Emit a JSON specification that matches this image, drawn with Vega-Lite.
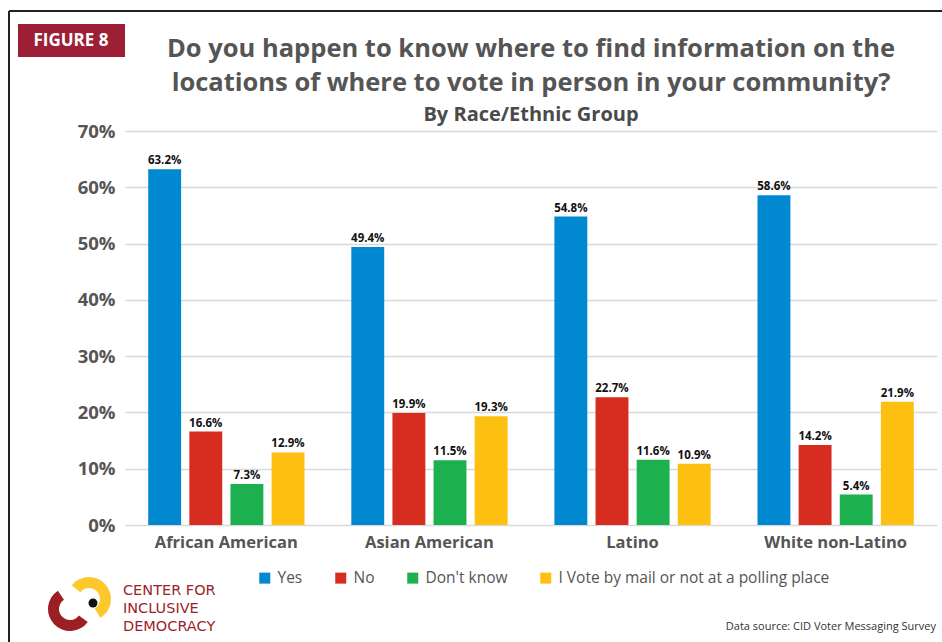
{
  "$schema": "https://vega.github.io/schema/vega-lite/v6.json",
  "width": 812,
  "height": 394,
  "autosize": {"type": "none"},
  "padding": {"left": 125, "top": 131, "right": 5, "bottom": 117},
  "background": "white",
  "config": {
    "font": "Open Sans",
    "view": {"stroke": null}
  },
  "title": {
    "text": ["Do you happen to know where to find information on the", "locations of where to vote in person in your community?"],
    "subtitle": "By Race/Ethnic Group",
    "anchor": "middle",
    "frame": "group",
    "font": "Open Sans",
    "fontSize": 25.5,
    "fontWeight": "bold",
    "color": "#555555",
    "lineHeight": 34,
    "subtitleFont": "Open Sans",
    "subtitleFontSize": 20,
    "subtitleFontWeight": "bold",
    "subtitleColor": "#4a4a4a",
    "subtitlePadding": 9,
    "offset": -115
  },
  "datasets": {
    "survey": [
      {"group": "African American", "answer": "Yes", "value": 0.632},
      {"group": "African American", "answer": "No", "value": 0.166},
      {"group": "African American", "answer": "Don't know", "value": 0.073},
      {"group": "African American", "answer": "I Vote by mail or not at a polling place", "value": 0.129},
      {"group": "Asian American", "answer": "Yes", "value": 0.494},
      {"group": "Asian American", "answer": "No", "value": 0.199},
      {"group": "Asian American", "answer": "Don't know", "value": 0.115},
      {"group": "Asian American", "answer": "I Vote by mail or not at a polling place", "value": 0.193},
      {"group": "Latino", "answer": "Yes", "value": 0.548},
      {"group": "Latino", "answer": "No", "value": 0.227},
      {"group": "Latino", "answer": "Don't know", "value": 0.116},
      {"group": "Latino", "answer": "I Vote by mail or not at a polling place", "value": 0.109},
      {"group": "White non-Latino", "answer": "Yes", "value": 0.586},
      {"group": "White non-Latino", "answer": "No", "value": 0.142},
      {"group": "White non-Latino", "answer": "Don't know", "value": 0.054},
      {"group": "White non-Latino", "answer": "I Vote by mail or not at a polling place", "value": 0.219}
    ]
  },
  "layer": [
    {
      "data": {"name": "survey"},
      "mark": {"type": "bar"},
      "encoding": {
        "x": {
          "field": "group", "type": "nominal",
          "sort": ["African American", "Asian American", "Latino", "White non-Latino"],
          "scale": {"paddingInner": 0.19, "paddingOuter": 0.094},
          "axis": {
            "title": null, "labelAngle": 0, "labelFontSize": 16.5, "labelFontWeight": "bold",
            "labelColor": "#555555", "labelPadding": 9, "ticks": false, "domain": false
          }
        },
        "xOffset": {
          "field": "answer", "type": "nominal",
          "sort": ["Yes", "No", "Don't know", "I Vote by mail or not at a polling place"],
          "scale": {"paddingInner": 0.2, "paddingOuter": 0.1}
        },
        "y": {
          "field": "value", "type": "quantitative",
          "scale": {"domain": [0, 0.7], "nice": false},
          "axis": {
            "title": null, "format": ".0%", "values": [0, 0.1, 0.2, 0.3, 0.4, 0.5, 0.6, 0.7],
            "labelFontSize": 18.5, "labelFontWeight": "bold", "labelColor": "#555555",
            "labelPadding": 10, "ticks": false, "domain": false,
            "gridColor": "#d9d9d9", "gridWidth": 1.5
          }
        },
        "color": {
          "field": "answer", "type": "nominal",
          "sort": ["Yes", "No", "Don't know", "I Vote by mail or not at a polling place"],
          "scale": {
            "domain": ["Yes", "No", "Don't know", "I Vote by mail or not at a polling place"],
            "range": ["#0088d0", "#d62d20", "#1db04f", "#fdc011"]
          },
          "legend": {
            "title": null, "orient": "none", "direction": "horizontal",
            "legendX": 132, "legendY": 439,
            "symbolType": "square", "symbolSize": 121, "symbolStrokeWidth": 0,
            "labelFontSize": 15.5, "labelColor": "#555555", "labelOffset": 5,
            "columnPadding": 30, "labelLimit": 400
          }
        }
      }
    },
    {
      "data": {"name": "survey"},
      "mark": {"type": "text", "dy": -8, "fontSize": 11.5, "fontWeight": "bold", "color": "#111111"},
      "encoding": {
        "x": {"field": "group", "type": "nominal", "sort": ["African American", "Asian American", "Latino", "White non-Latino"]},
        "xOffset": {"field": "answer", "type": "nominal", "sort": ["Yes", "No", "Don't know", "I Vote by mail or not at a polling place"]},
        "y": {"field": "value", "type": "quantitative"},
        "text": {"field": "value", "type": "quantitative", "format": ".1%"}
      }
    },
    {
      "data": {"values": [{"label": "FIGURE 8"}]},
      "mark": {"type": "rect", "color": "#9c1f35"},
      "encoding": {
        "x": {"value": -107}, "x2": {"value": 0},
        "y": {"value": -107}, "y2": {"value": -74}
      }
    },
    {
      "data": {"values": [{"label": "FIGURE 8"}]},
      "mark": {"type": "text", "color": "white", "fontSize": 17, "fontWeight": "bold", "align": "center", "baseline": "middle"},
      "encoding": {
        "x": {"value": -54}, "y": {"value": -90},
        "text": {"field": "label"}
      }
    },
    {
      "data": {"values": [{"label": "top"}]},
      "mark": {"type": "rule", "color": "#222222", "strokeWidth": 2},
      "encoding": {
        "x": {"value": -116}, "x2": {"value": 817},
        "y": {"value": -120}, "y2": {"value": -120}
      }
    },
    {
      "data": {"values": [{"label": "left"}]},
      "mark": {"type": "rule", "color": "#222222", "strokeWidth": 2},
      "encoding": {
        "x": {"value": -116}, "x2": {"value": -116},
        "y": {"value": -120}, "y2": {"value": 515}
      }
    },
    {
      "data": {"values": [{"label": "Data source: CID Voter Messaging Survey"}]},
      "mark": {"type": "text", "fontSize": 11, "color": "#333333", "align": "right", "baseline": "middle"},
      "encoding": {
        "x": {"value": 811}, "y": {"value": 496},
        "text": {"field": "label"}
      }
    },
    {
      "data": {"values": [{"line": "CENTER FOR"}]},
      "mark": {"type": "text", "fontSize": 14.5, "color": "#9c1f2a", "align": "left", "baseline": "alphabetic", "font": "DejaVu Sans"},
      "encoding": {
        "x": {"value": -2}, "y": {"value": 464},
        "text": {"field": "line"}
      }
    },
    {
      "data": {"values": [{"line": "INCLUSIVE"}]},
      "mark": {"type": "text", "fontSize": 14.5, "color": "#9c1f2a", "align": "left", "baseline": "alphabetic", "font": "DejaVu Sans"},
      "encoding": {
        "x": {"value": -2}, "y": {"value": 482},
        "text": {"field": "line"}
      }
    },
    {
      "data": {"values": [{"line": "DEMOCRACY"}]},
      "mark": {"type": "text", "fontSize": 14.5, "color": "#9c1f2a", "align": "left", "baseline": "alphabetic", "font": "DejaVu Sans"},
      "encoding": {
        "x": {"value": -2}, "y": {"value": 500},
        "text": {"field": "line"}
      }
    },
    {
      "data": {"values": [{"part": "red"}]},
      "mark": {"type": "arc", "color": "#9c1f24", "innerRadius": 11, "outerRadius": 22, "theta": 2.2, "theta2": 5.7},
      "encoding": {"x": {"value": -55}, "y": {"value": 478}}
    },
    {
      "data": {"values": [{"part": "yellow"}]},
      "mark": {"type": "arc", "color": "#fdc82a", "innerRadius": 11, "outerRadius": 22, "theta": -0.9, "theta2": 2.6},
      "encoding": {"x": {"value": -36}, "y": {"value": 468}}
    },
    {
      "data": {"values": [{"part": "dot"}]},
      "mark": {"type": "circle", "color": "#111111", "opacity": 1, "size": 80},
      "encoding": {"x": {"value": -32}, "y": {"value": 472}}
    }
  ]
}
